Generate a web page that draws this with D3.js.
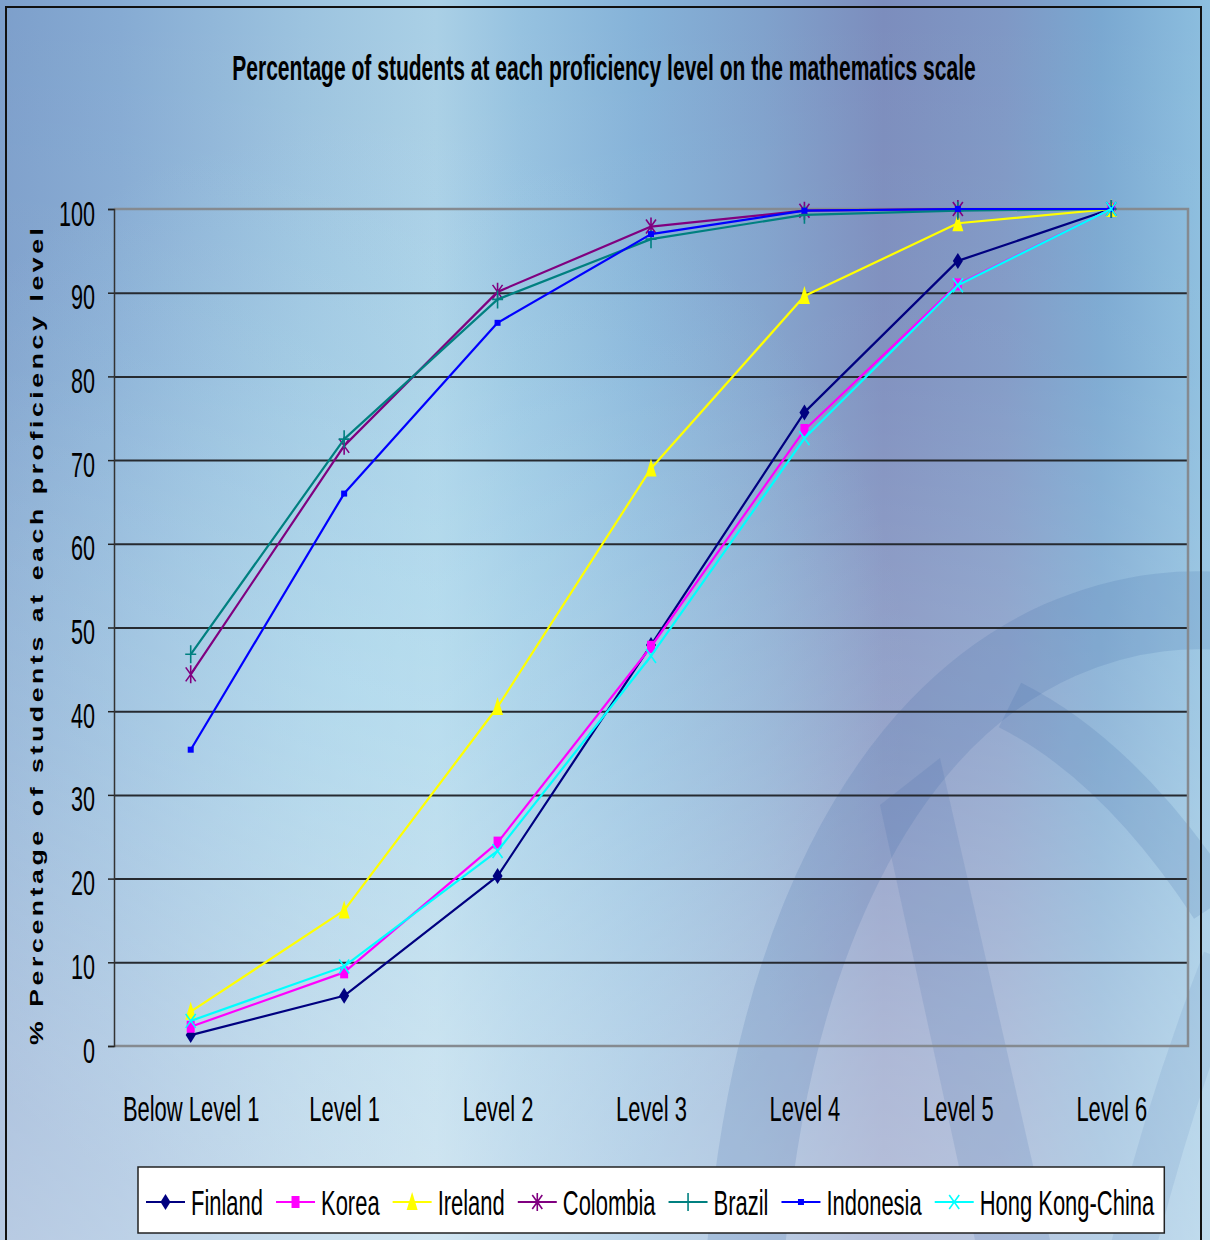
<!DOCTYPE html>
<html>
<head>
<meta charset="utf-8">
<script src="https://cdn.jsdelivr.net/npm/d3@7/dist/d3.min.js"></script>
<style>
  html, body { margin: 0; padding: 0; background: #ffffff; }
  svg { display: block; }
  text { font-family: "Liberation Sans", Arial, sans-serif; }
</style>
</head>
<body>
<svg id="chart" width="1210" height="1240"></svg>
<script>
// Proficiency levels on the x axis
const levels = ["Below Level 1", "Level 1", "Level 2", "Level 3", "Level 4", "Level 5", "Level 6"];

// Cumulative percentage of students at or below each level
const finland   = [1.3, 6.0, 20.3, 47.9, 75.7, 93.8, 100];
const korea     = [2.3, 8.8, 24.3, 47.7, 73.6, 91.0, 100];
const ireland   = [4.1, 16.2, 40.5, 69.0, 89.6, 98.3, 100];
const colombia  = [44.4, 71.7, 90.1, 97.9, 99.8, 100, 100];
const brazil    = [46.8, 72.5, 89.2, 96.4, 99.3, 99.8, 100];
const indonesia = [35.4, 66.0, 86.4, 97.0, 99.8, 100, 100];
const hongKong  = [3.0, 9.5, 23.3, 46.6, 72.6, 90.9, 100];

const yTicks = [0, 10, 20, 30, 40, 50, 60, 70, 80, 90, 100];

const seriesNames  = ["Finland", "Korea", "Ireland", "Colombia", "Brazil", "Indonesia", "Hong Kong-China"];
const seriesValues = [finland, korea, ireland, colombia, brazil, indonesia, hongKong];
const seriesColors = ["#000080", "#ff00ff", "#ffff00", "#800080", "#008080", "#0000ff", "#00ffff"];
const seriesMarkers = ["diamond", "square", "triangle", "asterisk", "plus", "dot", "cross"];

const titleText = "Percentage of students at each proficiency level on the mathematics scale";
const yLabelText = "% Percentage of students at each proficiency level";

const svg = d3.select("#chart");
const W = 1210, H = 1240;
const plot = { left: 114, right: 1188, top: 209, bottom: 1046 };

// ---------- background ----------
const defs = svg.append("defs");

const hGrad = defs.append("linearGradient").attr("id", "bgH")
  .attr("x1", 0).attr("x2", 1).attr("y1", 0).attr("y2", 0);
[[0, "#7d9fcb"], [0.1, "#86abd3"], [0.25, "#9cc3df"], [0.36, "#aad0e6"],
 [0.43, "#96c2e0"], [0.53, "#85b2d8"], [0.63, "#80a2cc"], [0.73, "#7c8dbd"],
 [0.83, "#7f98c5"], [0.91, "#7aa8d1"], [1, "#8dbfdf"]]
  .forEach(([o, c]) => hGrad.append("stop").attr("offset", o).attr("stop-color", c));

const vGrad = defs.append("linearGradient").attr("id", "bgV")
  .attr("x1", 0).attr("x2", 0).attr("y1", 0).attr("y2", 1);
[[0, 0], [0.3, 0.05], [0.6, 0.2], [0.85, 0.38], [1, 0.45]]
  .forEach(([o, a]) => vGrad.append("stop").attr("offset", o)
    .attr("stop-color", "#ffffff").attr("stop-opacity", a));

const rGrad = defs.append("radialGradient").attr("id", "bgR")
  .attr("cx", 0.3).attr("cy", 0.55).attr("r", 0.45);
rGrad.append("stop").attr("offset", 0).attr("stop-color", "#a8dcf0").attr("stop-opacity", 0.55);
rGrad.append("stop").attr("offset", 1).attr("stop-color", "#a8dcf0").attr("stop-opacity", 0);

svg.append("rect").attr("width", W).attr("height", H).attr("fill", "url(#bgH)");
svg.append("rect").attr("width", W).attr("height", H).attr("fill", "url(#bgR)");
svg.append("rect").attr("width", W).attr("height", H).attr("fill", "url(#bgV)");

// faint emblem in the lower right
const emblem = svg.append("g").attr("fill", "none").attr("stroke", "#2d5fa3")
  .attr("stroke-opacity", 0.15).attr("stroke-linecap", "butt");
emblem.append("path").attr("d", "M 745 1260 C 770 950, 880 720, 1060 640 C 1130 610, 1190 605, 1260 615")
  .attr("stroke-width", 78);
emblem.append("path").attr("d", "M 1010 705 Q 1120 760 1215 905").attr("stroke-width", 50);
emblem.append("path").attr("d", "M 1225 960 Q 1170 1100 1130 1260").attr("stroke-width", 45)
  .attr("stroke-opacity", 0.1);
svg.append("path").attr("d", "M 880 805 L 940 758 L 1050 1240 L 975 1240 Z")
  .attr("fill", "#2d5fa3").attr("fill-opacity", 0.13);

// outer frame
svg.append("path").attr("d", `M 6 ${H} L 6 7 L 1201 7 L 1201 ${H}`)
  .attr("fill", "none").attr("stroke", "#111").attr("stroke-width", 2);

// squeeze text horizontally to a narrow face (keeps its anchor point in place)
function condense(sel, f) {
  sel.each(function () {
    const t = d3.select(this);
    const x0 = +t.attr("x") || 0;
    const y0 = +t.attr("y") || 0;
    t.attr("x", 0).attr("y", 0)
      .attr("transform", `translate(${x0},${y0}) scale(${f},1)`);
  });
}

// ---------- scales ----------
const x = d3.scalePoint().domain(levels).range([plot.left, plot.right]).padding(0.5);
const y = d3.scaleLinear().domain([0, 100]).range([plot.bottom, plot.top]);

// gridlines
const grid = svg.append("g").attr("transform", `translate(${plot.left},0)`)
  .call(d3.axisLeft(y).tickValues(yTicks.filter(t => t > 0 && t < 100))
    .tickSize(-(plot.right - plot.left)).tickFormat(""));
grid.select(".domain").remove();
grid.selectAll("line").attr("stroke", "#262a30").attr("stroke-width", 2);

// plot border (top, right, bottom)
svg.append("path")
  .attr("d", `M ${plot.left} ${plot.top} L ${plot.right} ${plot.top} L ${plot.right} ${plot.bottom} L ${plot.left} ${plot.bottom}`)
  .attr("fill", "none").attr("stroke", "#858a90").attr("stroke-width", 2.5);

// y axis
const yAxis = svg.append("g").attr("transform", `translate(${plot.left},0)`)
  .call(d3.axisLeft(y).tickValues(yTicks).tickSize(6).tickPadding(13));
yAxis.select(".domain").attr("stroke", "#333").attr("stroke-width", 1.5);
yAxis.selectAll(".tick line").attr("stroke", "#222").attr("stroke-width", 1.5);
yAxis.selectAll(".tick text")
  .attr("font-family", "'Liberation Sans', Arial, sans-serif")
  .attr("font-size", 36).attr("fill", "#000").attr("dy", 16)
  .call(condense, 0.6);

// x axis labels
const xAxis = svg.append("g").attr("transform", `translate(0,${plot.bottom})`)
  .call(d3.axisBottom(x).tickSize(0).tickPadding(0));
xAxis.select(".domain").remove();
xAxis.selectAll(".tick text")
  .attr("font-family", "'Liberation Sans', Arial, sans-serif")
  .attr("font-size", 36).attr("fill", "#000").attr("dy", 75)
  .call(condense, 0.61);

// title, fitted to its width
const title = svg.append("text").attr("x", 604).attr("y", 80)
  .attr("text-anchor", "middle")
  .attr("font-size", 36).attr("font-weight", "bold").attr("fill", "#000")
  .text(titleText);
title.call(condense, 744 / title.node().getComputedTextLength());

// y axis title: wide bold letters, spread along the axis
const yStretch = 1.4;
svg.append("text")
  .attr("transform", `translate(43,1045) rotate(-90) scale(${yStretch},1)`)
  .attr("font-size", 19).attr("font-weight", "bold").attr("fill", "#000")
  .attr("textLength", 817 / yStretch).attr("lengthAdjust", "spacing")
  .text(yLabelText);

// ---------- markers ----------
function drawMarker(g, kind, color) {
  switch (kind) {
    case "diamond":
      g.append("path").attr("d", "M0,-8 L5,0 L0,8 L-5,0 Z").attr("fill", color); break;
    case "square":
      g.append("rect").attr("x", -4).attr("y", -6).attr("width", 8).attr("height", 12).attr("fill", color); break;
    case "triangle":
      g.append("path").attr("d", "M0,-10 L5.5,8 L-5.5,8 Z").attr("fill", color); break;
    case "asterisk":
      g.append("path").attr("d", "M-5,-7 L5,7 M-5,7 L5,-7 M0,-9 L0,9")
        .attr("stroke", color).attr("stroke-width", 1.6).attr("fill", "none"); break;
    case "plus":
      g.append("path").attr("d", "M-5.5,0 L5.5,0 M0,-9 L0,9")
        .attr("stroke", color).attr("stroke-width", 1.6).attr("fill", "none"); break;
    case "dot":
      g.append("rect").attr("x", -3).attr("y", -3).attr("width", 6).attr("height", 6).attr("fill", color); break;
    case "cross":
      g.append("path").attr("d", "M-5,-7 L5,7 M-5,7 L5,-7")
        .attr("stroke", color).attr("stroke-width", 1.6).attr("fill", "none"); break;
  }
}

// ---------- series ----------
const line = d3.line().x((d, i) => x(levels[i])).y(d => y(d));
const seriesG = svg.append("g");
seriesNames.forEach((name, si) => {
  const vals = seriesValues[si];
  const g = seriesG.append("g");
  g.append("path").datum(vals).attr("d", line)
    .attr("fill", "none").attr("stroke", seriesColors[si]).attr("stroke-width", 2.2)
    .attr("stroke-linejoin", "round");
  vals.forEach((v, i) => {
    const m = g.append("g").attr("transform", `translate(${x(levels[i])},${y(v)})`);
    drawMarker(m, seriesMarkers[si], seriesColors[si]);
  });
});

// ---------- legend ----------
const legend = svg.append("g");
const box = legend.append("rect").attr("x", 138).attr("y", 1167).attr("height", 66)
  .attr("fill", "#ffffff").attr("stroke", "#222").attr("stroke-width", 1.5);
const legendSqueeze = 0.61;
let lx = 146;
const ly = 1202;
seriesNames.forEach((name, si) => {
  legend.append("line").attr("x1", lx).attr("x2", lx + 39).attr("y1", ly).attr("y2", ly)
    .attr("stroke", seriesColors[si]).attr("stroke-width", 2.2);
  const m = legend.append("g").attr("transform", `translate(${lx + 19.5},${ly})`);
  drawMarker(m, seriesMarkers[si], seriesColors[si]);
  const t = legend.append("text").attr("x", lx + 45).attr("y", ly + 13)
    .attr("font-size", 36).attr("fill", "#000").text(name);
  const w = t.node().getComputedTextLength() * legendSqueeze;
  t.call(condense, legendSqueeze);
  lx = lx + 45 + w + 13;
});
box.attr("width", lx - 13 + 10 - 138);
</script>
</body>
</html>
